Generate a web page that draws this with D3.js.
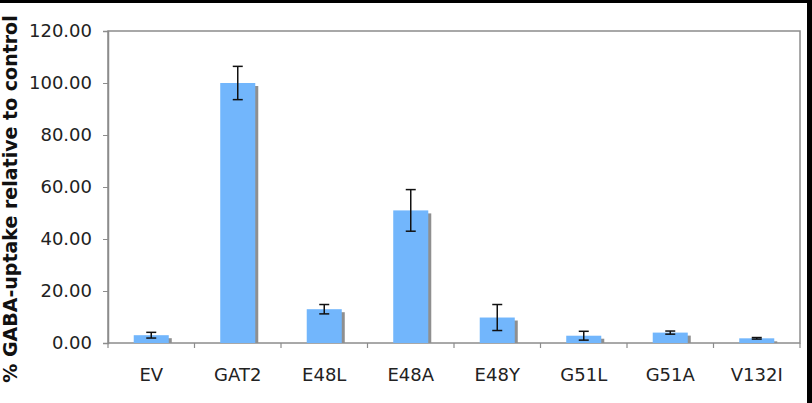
<!DOCTYPE html>
<html><head><meta charset="utf-8">
<script src="https://cdn.jsdelivr.net/npm/d3@7"></script>
<style>body{margin:0;background:#fff;} svg{display:block;}</style>
</head><body>
<svg id="c" width="812" height="403"></svg>
<script>
const categories = ["EV","GAT2","E48L","E48A","E48Y","G51L","G51A","V132I"];
const values = [3.0, 100.0, 13.0, 51.0, 9.8, 2.8, 4.0, 1.8];
const errors = [1.1, 6.4, 1.8, 8.0, 5.0, 1.7, 0.6, 0.3];
const yTicks = [0,20,40,60,80,100,120];
const yLabel = "% GABA-uptake relative to control";

const svg = d3.select("#c");
const m = {left:108, right:800, top:31, bottom:343};
const x = d3.scaleBand().domain(categories).range([m.left, m.right]).paddingInner(0).paddingOuter(0);
const y = d3.scaleLinear().domain([0,120]).range([m.bottom, m.top]);
const bw = x.bandwidth()*0.405;
const axisColor = "#8c8c8c";
const font = "DejaVu Sans, Verdana, sans-serif";

// plot frame
svg.append("rect").attr("x", m.left).attr("y", m.top).attr("width", m.right-m.left).attr("height", m.bottom-m.top)
  .attr("fill","none").attr("stroke", axisColor).attr("stroke-width",1.5);

// shadows and bars
const g = svg.append("g");
g.selectAll("rect.sh").data(categories).join("rect").attr("class","sh")
  .attr("x", d => x(d)+x.bandwidth()/2 - bw/2 + 3)
  .attr("y", (d,i) => y(values[i]) + 3)
  .attr("width", bw)
  .attr("height", (d,i) => Math.max(0, m.bottom - y(values[i]) - 3))
  .attr("fill", "#8f8f8f");
g.selectAll("rect.bar").data(categories).join("rect").attr("class","bar")
  .attr("x", d => x(d)+x.bandwidth()/2 - bw/2)
  .attr("y", (d,i) => y(values[i]))
  .attr("width", bw)
  .attr("height", (d,i) => m.bottom - y(values[i]))
  .attr("fill", "#72b6fc");

// error bars
const eg = svg.append("g").attr("stroke","#111").attr("stroke-width",1.5);
categories.forEach((c,i) => {
  const cx = x(c)+x.bandwidth()/2;
  const y1 = y(values[i]+errors[i]), y2 = y(values[i]-errors[i]);
  eg.append("line").attr("x1",cx).attr("x2",cx).attr("y1",y1).attr("y2",y2);
  eg.append("line").attr("x1",cx-5).attr("x2",cx+5).attr("y1",y1).attr("y2",y1);
  eg.append("line").attr("x1",cx-5).attr("x2",cx+5).attr("y1",y2).attr("y2",y2);
});

// y axis
const ya = svg.append("g").attr("transform",`translate(${m.left},0)`)
  .call(d3.axisLeft(y).tickValues(yTicks).tickFormat(d3.format(".2f")).tickSize(5).tickPadding(11));
ya.select(".domain").attr("stroke", axisColor).attr("stroke-width",1.5);
ya.selectAll(".tick line").attr("stroke", axisColor);
ya.selectAll(".tick text").attr("font-family",font).attr("font-size","18px").attr("fill","#222");

// x axis
const xa = svg.append("g").attr("transform",`translate(0,${m.bottom})`)
  .call(d3.axisBottom(x).tickSize(0).tickPadding(25));
xa.select(".domain").remove();
xa.selectAll(".tick text").attr("font-family",font).attr("font-size","18px").attr("fill","#222");
// category separator ticks
const sep = d3.range(categories.length+1).map(i => m.left + i*x.bandwidth());
svg.append("g").selectAll("line").data(sep).join("line")
  .attr("x1", d=>d).attr("x2", d=>d).attr("y1", m.bottom).attr("y2", m.bottom+5)
  .attr("stroke", axisColor).attr("stroke-width",1.2);

// y label
svg.append("text").attr("transform","translate(17,199) rotate(-90)")
  .attr("text-anchor","middle").attr("font-family",font)
  .attr("font-weight","bold").attr("font-size","19px").attr("fill","#111").text(yLabel);

// outer black border
svg.append("rect").attr("x",0).attr("y",0).attr("width",812).attr("height",3).attr("fill","#000");
svg.append("rect").attr("x",807).attr("y",0).attr("width",5).attr("height",403).attr("fill","#000");
</script>
</body></html>
